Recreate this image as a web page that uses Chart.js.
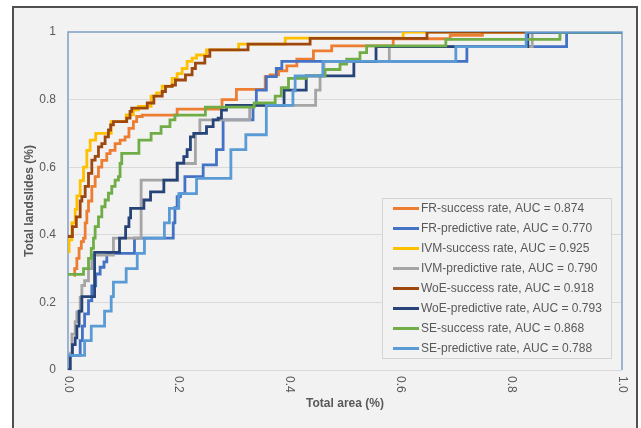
<!DOCTYPE html>
<html>
<head>
<meta charset="utf-8">
<title>Success and predictive rate curves</title>
<script src="https://cdn.jsdelivr.net/npm/chart.js@4.4.1/dist/chart.umd.min.js"></script>
<style>
  html, body { margin: 0; padding: 0; background: #fff; }
  #wrap { width: 641px; height: 428px; position: relative; }
</style>
</head>
<body>
<div id="wrap"><canvas id="roc"></canvas></div>
<script>
// legend labels and line colours, same order as the Excel series
const seriesLabels = [
  'FR-success rate, AUC = 0.874',
  'FR-predictive rate, AUC = 0.770',
  'IVM-success rate, AUC = 0.925',
  'IVM-predictive rate, AUC = 0.790',
  'WoE-success rate, AUC = 0.918',
  'WoE-predictive rate, AUC = 0.793',
  'SE-success rate, AUC = 0.868',
  'SE-predictive rate, AUC = 0.788'
];
const seriesColors = ['#ED7D31', '#4472C4', '#FFC000', '#A5A5A5', '#9E480E', '#264478', '#70AD47', '#5B9BD5'];

const xTickLabels = ['0.0', '0.2', '0.4', '0.6', '0.8', '1.0'];
const yTickLabels = ['0', '0.2', '0.4', '0.6', '0.8', '1'];

// [total area, total landslides] at each step
const frSuccess = [[0.01,0.28],[0.012,0.30],[0.016,0.33],[0.02,0.36],[0.024,0.38],[0.028,0.39],[0.031,0.435],[0.034,0.47],[0.037,0.50],[0.043,0.543],[0.049,0.572],[0.055,0.60],[0.061,0.62],[0.07,0.64],[0.076,0.65],[0.085,0.67],[0.094,0.68],[0.103,0.69],[0.11,0.715],[0.118,0.735],[0.124,0.75],[0.134,0.754],[0.197,0.772],[0.278,0.80],[0.304,0.83],[0.356,0.868],[0.365,0.873],[0.38,0.885],[0.395,0.90],[0.413,0.92],[0.443,0.944],[0.476,0.959],[0.587,0.98],[0.69,0.99],[0.748,1],[1,1]];
const frPredict = [[0,0.043],[0.022,0.087],[0.026,0.13],[0.03,0.166],[0.037,0.205],[0.043,0.249],[0.05,0.284],[0.058,0.304],[0.065,0.32],[0.07,0.345],[0.12,0.39],[0.19,0.435],[0.193,0.48],[0.197,0.513],[0.203,0.522],[0.211,0.572],[0.244,0.607],[0.268,0.652],[0.28,0.74],[0.334,0.783],[0.34,0.828],[0.358,0.868],[0.376,0.892],[0.386,0.913],[0.72,0.957],[0.9,1],[1,1]];
const ivmSuccess = [[0,0.35],[0.002,0.385],[0.007,0.435],[0.013,0.475],[0.016,0.515],[0.022,0.56],[0.028,0.60],[0.034,0.65],[0.04,0.68],[0.05,0.70],[0.078,0.735],[0.105,0.755],[0.118,0.77],[0.127,0.78],[0.15,0.81],[0.16,0.82],[0.17,0.84],[0.188,0.863],[0.197,0.877],[0.206,0.892],[0.215,0.913],[0.224,0.923],[0.232,0.932],[0.25,0.947],[0.308,0.964],[0.392,0.982],[0.605,1],[1,1]];
const ivmPredict = [[0,0],[0.004,0.05],[0.007,0.106],[0.013,0.143],[0.016,0.172],[0.022,0.215],[0.025,0.25],[0.03,0.264],[0.037,0.30],[0.043,0.34],[0.082,0.39],[0.132,0.562],[0.198,0.611],[0.23,0.70],[0.238,0.74],[0.328,0.783],[0.447,0.828],[0.455,0.87],[0.462,0.913],[0.58,0.957],[0.838,1],[1,1]];
const woeSuccess = [[0,0.395],[0.008,0.424],[0.015,0.453],[0.022,0.50],[0.025,0.513],[0.031,0.543],[0.037,0.582],[0.043,0.621],[0.049,0.632],[0.055,0.66],[0.061,0.67],[0.067,0.69],[0.073,0.71],[0.077,0.725],[0.082,0.735],[0.106,0.745],[0.112,0.765],[0.115,0.775],[0.143,0.79],[0.155,0.81],[0.17,0.824],[0.176,0.839],[0.188,0.843],[0.194,0.858],[0.212,0.873],[0.224,0.892],[0.23,0.908],[0.247,0.928],[0.256,0.947],[0.325,0.964],[0.437,0.981],[0.648,1],[1,1]];
const woePredict = [[0,0],[0.004,0.043],[0.008,0.075],[0.013,0.095],[0.016,0.13],[0.02,0.174],[0.025,0.217],[0.048,0.348],[0.093,0.39],[0.104,0.424],[0.11,0.45],[0.113,0.478],[0.137,0.503],[0.149,0.527],[0.173,0.562],[0.197,0.612],[0.209,0.631],[0.215,0.652],[0.221,0.69],[0.227,0.70],[0.25,0.72],[0.262,0.74],[0.271,0.745],[0.277,0.769],[0.286,0.783],[0.39,0.828],[0.43,0.87],[0.516,0.913],[0.556,0.957],[0.83,1],[1,1]];
const seSuccess = [[0,0.283],[0.028,0.30],[0.037,0.33],[0.042,0.36],[0.046,0.39],[0.049,0.424],[0.055,0.453],[0.061,0.483],[0.067,0.503],[0.073,0.523],[0.079,0.543],[0.085,0.562],[0.091,0.572],[0.094,0.611],[0.097,0.641],[0.128,0.68],[0.15,0.70],[0.168,0.72],[0.184,0.74],[0.193,0.754],[0.248,0.778],[0.336,0.79],[0.374,0.81],[0.385,0.835],[0.398,0.863],[0.43,0.87],[0.464,0.889],[0.491,0.905],[0.503,0.92],[0.527,0.939],[0.539,0.959],[0.682,0.978],[0.888,1],[1,1]];
const sePredict = [[0,0.043],[0.03,0.087],[0.042,0.13],[0.066,0.174],[0.078,0.217],[0.082,0.26],[0.105,0.30],[0.125,0.345],[0.138,0.39],[0.174,0.435],[0.183,0.478],[0.2,0.522],[0.232,0.567],[0.294,0.652],[0.321,0.696],[0.358,0.783],[0.406,0.826],[0.41,0.87],[0.46,0.913],[0.70,0.957],[0.827,1],[1,1]];

const seriesData = [frSuccess, frPredict, ivmSuccess, ivmPredict, woeSuccess, woePredict, seSuccess, sePredict];

const textColor = '#595959';
const fontName = "'Liberation Sans', Arial, sans-serif";

// grey page background with the dark frame round it
const framePlugin = {
  id: 'frame',
  beforeDraw(chart) {
    const ctx = chart.ctx;
    ctx.save();
    ctx.fillStyle = '#ffffff';
    ctx.fillRect(0, 0, chart.width, chart.height);
    ctx.fillStyle = '#f2f2f2';
    ctx.fillRect(13, 7, 624, chart.height - 7);
    ctx.strokeStyle = '#505050';
    ctx.lineWidth = 2;
    ctx.beginPath();
    ctx.moveTo(13, chart.height);
    ctx.lineTo(13, 7);
    ctx.lineTo(637, 7);
    ctx.lineTo(637, chart.height);
    ctx.stroke();
    ctx.restore();
  }
};

// blue outline of the plot area (top, left, right)
const plotBorder = {
  id: 'plotBorder',
  beforeDatasetsDraw(chart) {
    const {ctx, chartArea: a} = chart;
    ctx.save();
    ctx.strokeStyle = '#7f9ec3';
    ctx.lineWidth = 1.5;
    ctx.beginPath();
    ctx.moveTo(a.left, a.bottom);
    ctx.lineTo(a.left, a.top);
    ctx.lineTo(a.right, a.top);
    ctx.lineTo(a.right, a.bottom);
    ctx.stroke();
    ctx.restore();
  }
};

// x tick labels turned 90deg clockwise like the Excel original
const xLabels = {
  id: 'xLabels',
  afterDraw(chart) {
    const {ctx, chartArea: a} = chart;
    const xs = chart.scales.x;
    ctx.save();
    ctx.fillStyle = textColor;
    ctx.font = '12px ' + fontName;
    ctx.textAlign = 'left';
    ctx.textBaseline = 'middle';
    xTickLabels.forEach(function(t) {
      const px = xs.getPixelForValue(parseFloat(t));
      ctx.save();
      ctx.translate(px, a.bottom + 6);
      ctx.rotate(Math.PI / 2);
      ctx.fillText(t, 0, 0);
      ctx.restore();
    });
    ctx.restore();
  }
};

// legend box inside the plot, bottom right
const boxLegend = {
  id: 'boxLegend',
  afterDraw(chart) {
    const ctx = chart.ctx;
    const bx = 382.5, by = 198.5, bw = 229, bh = 160;
    ctx.save();
    ctx.fillStyle = '#f2f2f2';
    ctx.fillRect(bx, by, bw, bh);
    ctx.strokeStyle = '#d4d4d4';
    ctx.lineWidth = 1;
    ctx.strokeRect(bx, by, bw, bh);
    ctx.font = '12px ' + fontName;
    ctx.textBaseline = 'middle';
    ctx.textAlign = 'left';
    chart.data.datasets.forEach(function(ds, i) {
      const y = 208.5 + i * 20;
      ctx.strokeStyle = ds.borderColor;
      ctx.lineWidth = 3;
      ctx.beginPath();
      ctx.moveTo(393, y);
      ctx.lineTo(419, y);
      ctx.stroke();
      ctx.fillStyle = textColor;
      ctx.fillText(ds.label, 421, y + 0.5);
    });
    ctx.restore();
  }
};

new Chart(document.getElementById('roc'), {
  type: 'line',
  data: {
    datasets: seriesData.map(function(pts, i) {
      return {
        label: seriesLabels[i],
        data: pts.map(function(p) { return {x: p[0], y: p[1]}; }),
        borderColor: seriesColors[i],
        backgroundColor: seriesColors[i],
        borderWidth: 2.8,
        pointRadius: 0,
        stepped: true,
        fill: false,
        order: seriesData.length - i
      };
    })
  },
  options: {
    responsive: true,
    maintainAspectRatio: false,
    animation: false,
    layout: { padding: { top: 32, right: 19, bottom: 10, left: 14 } },
    plugins: {
      legend: { display: false },
      tooltip: { enabled: false }
    },
    scales: {
      x: {
        type: 'linear',
        min: 0,
        max: 1,
        grid: { display: false },
        border: { display: false },
        ticks: { display: false, stepSize: 0.2 },
        title: {
          display: true,
          text: 'Total area (%)',
          color: textColor,
          font: { family: fontName, size: 12, weight: 'bold' },
          padding: { top: 0, bottom: 7 }
        },
        afterFit(scale) { scale.height = 48; }
      },
      y: {
        min: 0,
        max: 1,
        grid: {
          drawTicks: false,
          color: function(c) { return c.index === 5 ? 'rgba(0,0,0,0)' : '#d9d9d9'; },
          lineWidth: 1
        },
        border: { display: false },
        ticks: {
          stepSize: 0.2,
          padding: 12,
          color: textColor,
          font: { family: fontName, size: 12 },
          callback: function(v, idx) { return yTickLabels[idx]; }
        },
        title: {
          display: true,
          text: 'Total landslides (%)',
          color: textColor,
          font: { family: fontName, size: 12, weight: 'bold' },
          padding: { top: 8, bottom: 0 }
        },
        afterFit(scale) { scale.width = 54; }
      }
    }
  },
  plugins: [framePlugin, plotBorder, xLabels, boxLegend]
});
</script>
</body>
</html>
